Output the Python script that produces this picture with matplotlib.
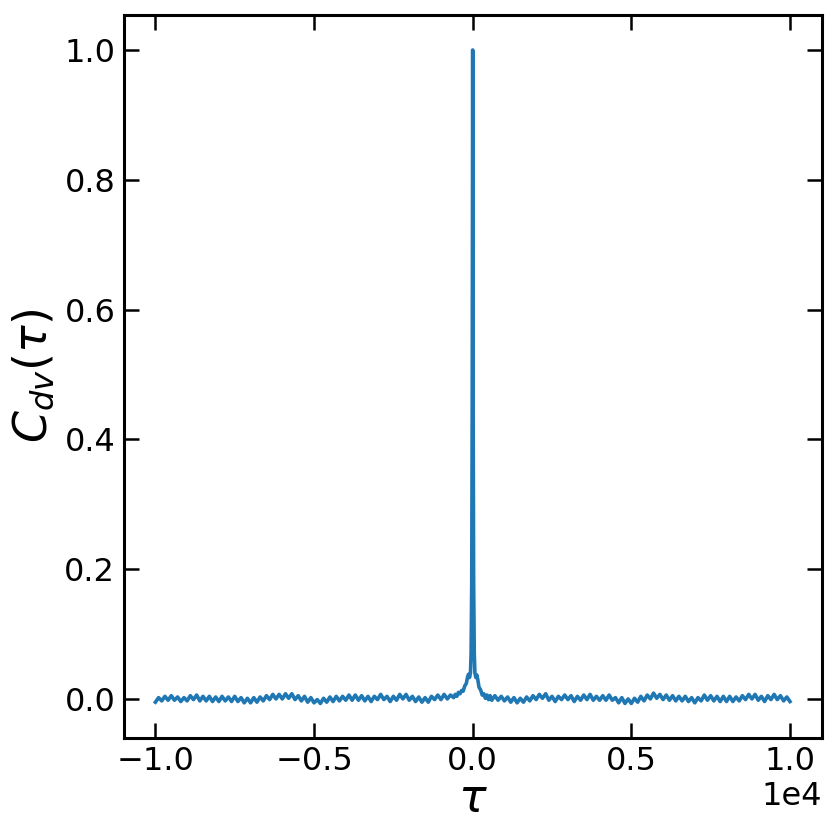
import numpy as np
import matplotlib
matplotlib.use("Agg")
import matplotlib.pyplot as plt

# lag values (tau) and correlation values
tau_left = [-10000, -9900, -9800, -9700, -9600, -9500, -9400, -9300, -9200, -9100,
            -9000, -8900, -8800, -8700, -8600, -8500, -8400, -8300, -8200, -8100,
            -8000, -7900, -7800, -7700, -7600, -7500, -7400, -7300, -7200, -7100,
            -7000, -6900, -6800, -6700, -6600, -6500, -6400, -6300, -6200, -6100,
            -6000, -5900, -5800, -5700, -5600, -5500, -5400, -5300, -5200, -5100,
            -5000, -4900, -4800, -4700, -4600, -4500, -4400, -4300, -4200, -4100,
            -4000, -3900, -3800, -3700, -3600, -3500, -3400, -3300, -3200, -3100,
            -3000, -2900, -2800, -2700, -2600, -2500, -2400, -2300, -2200, -2100,
            -2000, -1900, -1800, -1700, -1600, -1500, -1400, -1300, -1200, -1100,
            -1000, -900, -800, -700]
c_left = [-0.005, 0.002, -0.003, 0.004, -0.002, 0.005, -0.002, 0.003, -0.004, 0.002,
          -0.003, 0.005, -0.001, 0.006, -0.003, 0.004, -0.003, 0.004, -0.004, 0.003,
          -0.004, 0.004, -0.003, 0.003, -0.004, 0.004, -0.004, 0.002, -0.006, 0.001,
          -0.006, 0.002, -0.005, 0.003, -0.003, 0.005, -0.001, 0.007, 0.000, 0.007,
          0.000, 0.008, 0.001, 0.008, -0.001, 0.005, -0.003, 0.004, -0.005, 0.002,
          -0.006, -0.001, -0.007, 0.001, -0.005, 0.003, -0.004, 0.004, -0.003, 0.004,
          -0.002, 0.006, -0.002, 0.006, -0.002, 0.005, -0.003, 0.004, -0.004, 0.004,
          -0.001, 0.007, -0.001, 0.004, -0.004, 0.004, -0.002, 0.007, 0.000, 0.007,
          -0.002, 0.004, -0.004, 0.003, -0.005, 0.002, -0.005, 0.004, -0.001, 0.006,
          -0.001, 0.007, 0.000, 0.006]

tau_peak = [-600, -550, -500, -450, -400, -350, -300, -250, -200, -160, -130, -100,
            -70, -50, -30, -15, 0, 15, 30, 50, 70, 100, 130, 160, 200, 250, 300,
            350, 400, 450, 500, 550, 600]
c_peak = [0.002, 0.007, 0.004, 0.010, 0.008, 0.013, 0.012, 0.020, 0.024, 0.034, 0.038, 0.033,
          0.040, 0.070, 0.180, 0.450, 1.000, 0.450, 0.180, 0.070, 0.040, 0.033, 0.037, 0.030,
          0.018, 0.014, 0.006, 0.008, 0.001, 0.006, -0.001, 0.005, -0.002]

tau_right = [700, 800, 900, 1000,
             1100, 1200, 1300, 1400, 1500, 1600, 1700, 1800, 1900, 2000,
             2100, 2200, 2300, 2400, 2500, 2600, 2700, 2800, 2900, 3000,
             3100, 3200, 3300, 3400, 3500, 3600, 3700, 3800, 3900, 4000,
             4100, 4200, 4300, 4400, 4500, 4600, 4700, 4800, 4900, 5000,
             5100, 5200, 5300, 5400, 5500, 5600, 5700, 5800, 5900, 6000,
             6100, 6200, 6300, 6400, 6500, 6600, 6700, 6800, 6900, 7000,
             7100, 7200, 7300, 7400, 7500, 7600, 7700, 7800, 7900, 8000,
             8100, 8200, 8300, 8400, 8500, 8600, 8700, 8800, 8900, 9000,
             9100, 9200, 9300, 9400, 9500, 9600, 9700, 9800, 9900, 10000]
c_right = [0.005, -0.002, 0.004, -0.003,
           0.003, -0.005, 0.002, -0.006, 0.001, -0.005, 0.003, -0.003, 0.005, -0.001,
           0.007, 0.001, 0.008, -0.002, 0.004, -0.004, 0.004, -0.001, 0.006, -0.001,
           0.005, -0.004, 0.004, -0.002, 0.006, -0.001, 0.007, -0.002, 0.004, -0.002,
           0.005, -0.002, 0.006, -0.002, 0.002, -0.006, 0.002, -0.007, 0.000, -0.007,
           0.001, -0.005, 0.004, -0.003, 0.006, 0.000, 0.009, 0.001, 0.007, -0.001,
           0.006, -0.002, 0.005, -0.003, 0.004, -0.003, 0.004, -0.004, 0.002, -0.006,
           0.002, -0.003, 0.006, -0.002, 0.005, -0.003, 0.004, -0.004, 0.004, -0.004,
           0.004, -0.004, 0.003, -0.003, 0.005, -0.001, 0.007, 0.000, 0.007, -0.002,
           0.004, -0.004, 0.005, -0.001, 0.007, -0.001, 0.005, -0.003, 0.003, -0.004]

tau = np.array(tau_left + tau_peak + tau_right, dtype=float)
corr = np.array(c_left + c_peak + c_right, dtype=float)

fig = plt.figure(figsize=(8.3, 8.3), dpi=100)
ax = fig.add_axes([0.149, 0.111, 0.841, 0.871])
ax.plot(tau, corr, color="#1f77b4", lw=2.6)

ax.set_ylim(-0.060, 1.054)
ax.set_yticks([0.0, 0.2, 0.4, 0.6, 0.8, 1.0])
ax.set_xticks([-10000, -5000, 0, 5000, 10000])
ax.ticklabel_format(axis="x", style="sci", scilimits=(0, 0), useMathText=False)

ax.tick_params(direction="in", length=11, width=1.8, labelsize=23,
               top=True, right=True, pad=6)
for s in ax.spines.values():
    s.set_linewidth(2.2)
ax.xaxis.get_offset_text().set_fontsize(23)

ax.set_xlabel(r"$\tau$", fontsize=33, labelpad=0)
ax.set_ylabel(r"$C_{dv}(\tau)$", fontsize=33, labelpad=6)

fig.savefig("out.png", dpi=100)
